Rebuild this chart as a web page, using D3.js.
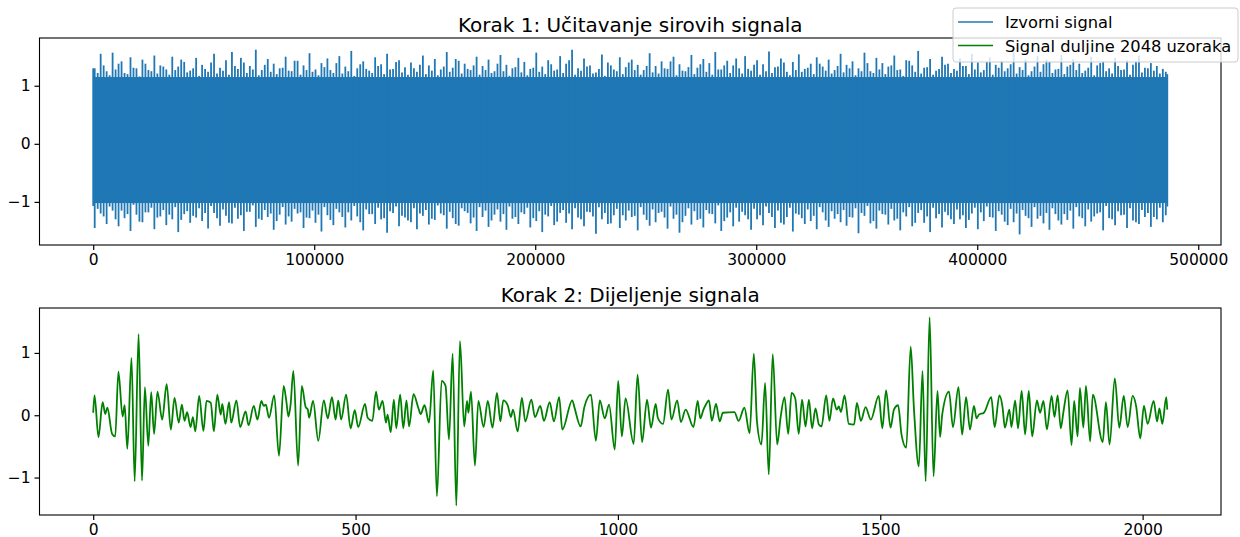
<!DOCTYPE html>
<html>
<head>
<meta charset="utf-8">
<script src="https://cdn.jsdelivr.net/npm/d3@7"></script>
<style>
  body { margin: 0; background: #fff; }
  svg { display: block; font-family: "DejaVu Sans", sans-serif; }
</style>
</head>
<body>
<svg id="chart" width="1240" height="537"></svg>
<script>
// raw signal: 486000 samples, drawn as its envelope (max / min per bin of 1350 samples)
// A arrays hold the even bins, B arrays the odd bins
const rawLength = 486000;
const rawBin = 1350;
const rawCore = [-1.02, 1.15];
const rawUpperA = [
  1.30,1.55,1.25,1.57,1.38,1.22,1.49,1.30,1.45,1.27,1.52,1.35,1.28,1.50,1.33,1.41,1.26,1.48,
  1.36,1.24,1.55,1.31,1.44,1.58,1.29,1.40,1.34,1.62,1.27,1.46,1.38,1.30,1.50,1.25,1.43,1.35,
  1.56,1.28,1.39,1.47,1.22,1.51,1.33,1.60,1.30,1.42,1.26,1.49,1.37,1.55,1.29,1.44,1.32,1.40,
  1.24,1.52,1.35,1.46,1.28,1.58,1.31,1.43,1.38,1.27,1.50,1.34,1.45,1.25,1.53,1.36,1.30,1.48,
  1.41,1.29,1.57,1.33,1.44,1.26,1.51,1.38,1.62,1.30,1.47,1.35,1.23,1.54,1.40,1.28,1.49,1.32,
  1.45,1.36,1.27,1.56,1.34,1.42,1.29,1.50,1.37,1.25,1.53,1.31,1.46,1.39,1.58,1.28,1.43,1.35,
  1.30,1.51,1.26,1.44,1.37,1.59,1.32,1.47,1.24,1.41,1.54,1.29,1.38,1.49,1.33,1.45,1.27,1.55,
  1.36,1.42,1.30,1.57,1.25,1.48,1.39,1.33,1.52,1.28,1.44,1.35,1.60,1.31,1.46,1.26,1.50,1.38,
  1.29,1.47,1.34,1.55,1.40,1.27,1.49,1.36,1.43,1.30,1.58,1.32,1.45,1.25,1.51,1.37,1.41,1.28,
  1.53,1.33,1.46,1.38,1.26,1.50,1.35,1.42,1.30,1.48,1.27,1.44,1.36,1.52,1.31,1.39,1.34,1.29
];
const rawUpperB = [
  1.22,1.35,1.18,1.28,1.42,1.20,1.31,1.16,1.38,1.25,1.21,1.33,1.19,1.27,1.45,1.23,1.30,1.17,
  1.29,1.40,1.21,1.26,1.19,1.34,1.48,1.22,1.28,1.18,1.36,1.24,1.20,1.31,1.26,1.43,1.19,1.27,
  1.24,1.18,1.32,1.27,1.39,1.21,1.25,1.17,1.37,1.29,1.22,1.34,1.20,1.28,1.41,1.23,1.19,1.30,
  1.36,1.20,1.26,1.18,1.33,1.24,1.46,1.21,1.29,1.35,1.19,1.27,1.22,1.38,1.25,1.17,1.32,1.23,
  1.18,1.31,1.24,1.20,1.37,1.28,1.22,1.44,1.19,1.26,1.33,1.21,1.29,1.17,1.35,1.25,1.20,1.40,
  1.27,1.19,1.34,1.23,1.21,1.30,1.42,1.18,1.26,1.32,1.20,1.37,1.24,1.19,1.28,1.35,1.22,1.47,
  1.21,1.29,1.36,1.19,1.25,1.22,1.33,1.40,1.18,1.27,1.24,1.31,1.20,1.38,1.26,1.21,1.34,1.23,
  1.30,1.18,1.25,1.39,1.22,1.28,1.20,1.35,1.27,1.17,1.43,1.24,1.21,1.32,1.19,1.29,1.36,1.22,
  1.26,1.34,1.20,1.28,1.23,1.41,1.19,1.31,1.25,1.37,1.21,1.27,1.18,1.33,1.24,1.45,1.22,1.29,
  1.20,1.36,1.27,1.22,1.31,1.18,1.39,1.25,1.21,1.34,1.28,1.19,1.42,1.23,1.30,1.26,1.21,1.24
];
const rawLowerA = [
  -1.45,-1.20,-1.38,-1.15,-1.42,-1.28,-1.50,-1.22,-1.35,-1.18,-1.47,-1.25,-1.40,-1.30,-1.52,-1.21,-1.36,-1.27,
  -1.33,-1.46,-1.19,-1.41,-1.24,-1.37,-1.29,-1.50,-1.17,-1.43,-1.31,-1.26,-1.48,-1.22,-1.39,-1.34,-1.20,-1.45,
  -1.28,-1.36,-1.51,-1.23,-1.40,-1.18,-1.44,-1.32,-1.25,-1.49,-1.21,-1.38,-1.30,-1.53,-1.19,-1.42,-1.27,-1.35,
  -1.47,-1.24,-1.39,-1.31,-1.20,-1.46,-1.28,-1.41,-1.16,-1.37,-1.50,-1.26,-1.43,-1.22,-1.34,-1.48,-1.29,-1.38,
  -1.21,-1.44,-1.33,-1.52,-1.25,-1.40,-1.19,-1.36,-1.47,-1.27,-1.42,-1.18,-1.55,-1.30,-1.38,-1.23,-1.45,-1.32,
  -1.26,-1.49,-1.22,-1.41,-1.35,-1.17,-1.46,-1.29,-1.53,-1.24,-1.39,-1.31,-1.44,-1.20,-1.37,-1.50,-1.27,-1.42,
  -1.34,-1.23,-1.48,-1.30,-1.40,-1.19,-1.45,-1.36,-1.26,-1.51,-1.22,-1.38,-1.33,-1.47,-1.18,-1.43,-1.29,-1.35,
  -1.41,-1.27,-1.54,-1.24,-1.37,-1.46,-1.21,-1.39,-1.32,-1.49,-1.25,-1.42,-1.19,-1.36,-1.52,-1.28,-1.44,-1.23,
  -1.38,-1.30,-1.45,-1.20,-1.47,-1.33,-1.26,-1.50,-1.22,-1.40,-1.35,-1.56,-1.24,-1.43,-1.29,-1.37,-1.48,-1.21,
  -1.39,-1.31,-1.46,-1.25,-1.42,-1.34,-1.20,-1.49,-1.28,-1.40,-1.23,-1.45,-1.32,-1.38,-1.26,-1.43,-1.30,-1.35
];
const rawLowerB = [
  -1.12,-1.25,-1.08,-1.30,-1.15,-1.21,-1.05,-1.34,-1.18,-1.10,-1.27,-1.14,-1.22,-1.09,-1.31,-1.16,-1.24,-1.11,
  -1.19,-1.07,-1.28,-1.13,-1.36,-1.10,-1.23,-1.17,-1.06,-1.29,-1.14,-1.20,-1.33,-1.09,-1.25,-1.12,-1.18,-1.27,
  -1.15,-1.22,-1.09,-1.31,-1.12,-1.26,-1.18,-1.07,-1.35,-1.13,-1.21,-1.10,-1.28,-1.16,-1.08,-1.24,-1.32,-1.11,
  -1.20,-1.14,-1.29,-1.06,-1.23,-1.17,-1.38,-1.11,-1.19,-1.27,-1.09,-1.15,-1.32,-1.13,-1.21,-1.08,-1.26,-1.18,
  -1.10,-1.28,-1.16,-1.22,-1.07,-1.34,-1.14,-1.20,-1.11,-1.30,-1.17,-1.25,-1.09,-1.19,-1.37,-1.12,-1.23,-1.15,
  -1.24,-1.09,-1.31,-1.13,-1.19,-1.27,-1.08,-1.22,-1.35,-1.11,-1.16,-1.29,-1.14,-1.21,-1.06,-1.33,-1.18,-1.10,
  -1.17,-1.30,-1.12,-1.23,-1.08,-1.26,-1.15,-1.39,-1.10,-1.20,-1.28,-1.13,-1.24,-1.09,-1.32,-1.16,-1.21,-1.14,
  -1.26,-1.11,-1.19,-1.07,-1.33,-1.15,-1.22,-1.12,-1.29,-1.18,-1.09,-1.36,-1.14,-1.25,-1.10,-1.21,-1.17,-1.30,
  -1.13,-1.23,-1.31,-1.10,-1.18,-1.08,-1.27,-1.16,-1.34,-1.12,-1.20,-1.14,-1.28,-1.09,-1.24,-1.19,-1.11,-1.32,
  -1.21,-1.15,-1.09,-1.28,-1.13,-1.25,-1.18,-1.07,-1.30,-1.16,-1.22,-1.11,-1.35,-1.14,-1.19,-1.26,-1.10,-1.23
];

// 2048-sample segment: turning points (sample index, value)
const segIdx = [
  0,2.5,10,18,23,27,36,42,48,56,60,65,73,79,86.5,93,98.5,105,110.5,116,122.5,131.5,140,148,155,163,169,174,179,185.5,
  190,194.5,202,210,216,224,230,236.5,243,246,252,259,263,273,280,290.5,296,306,313,320.5,325,329,335,345,354,363,368,372,376,381.5,
  390.5,397.5,405,409,411.5,419,429,439.5,447,455,462,467,472.5,482,490.5,498.5,505,518,523,532,539,544.5,551.5,558,561,567,573,577.5,585,591,
  597,602,610.5,619.5,624,631.5,640,648,655,664,671.5,678,685,692,699,707,712.5,715,720,727.5,734,744,752,761,769.5,776,781.5,790,796,800,
  809,817,823.5,835,842,852,859,870,878,888,894,913,917,929,936,948.5,958,965.5,975,983,994,1000.5,1007.5,1014.5,1030,1037.5,1046,1055.5,1063,1072,
  1076,1086,1095.5,1102,1113,1120,1129,1144,1152,1157,1163,1167,1173.5,1179,1187,1194,1200,1222,1230,1241,1251,1259,1265,1273.5,1280.5,1287.5,1295,1303.5,1310,1317.5,
  1324.5,1331,1338,1344.5,1351,1357.5,1364,1370,1376.5,1383,1388,1397,1403,1410,1417,1421,1425,1432,1440,1450,1455.5,1463,1472,1482,1497,1504,1511,1519.5,1526,1534,1540.5,1549.5,1558,
  1564,1573.5,1580.5,1586.5,1594,1601.5,1609,1614,1618,1631,1638.5,1649,1656,1663.5,1671,1678.5,1683.5,1688,1697.5,1711.5,1718,1727,1733,1737.5,1746,1750,1757,1762.5,1769.5,1776,
  1783,1789.5,1798.5,1804.5,1811,1817.5,1826.5,1832,1838,1844,1849,1857,1864.5,1869.5,1876,1880.5,1887,1892,1900,1905,1924,1930,1937,1947,1955.5,1964,1971.5,1981,1987.5,1995.5,
  2002.5,2009.5,2021,2027.5,2032,2037.5,2045,2047
];
const segVal = [
  0.04,0.32,-0.35,0.21,0.02,0.12,-0.30,-0.34,0.70,-0.02,0.16,-0.54,0.92,-1.06,1.30,-1.05,0.45,-0.49,0.37,-0.30,0.38,-0.07,0.50,-0.23,0.28,-0.12,0.17,-0.09,0.05,-0.19,
  -0.03,-0.26,0.31,-0.25,0.23,0.20,-0.26,0.33,0.01,0.18,-0.14,0.21,-0.12,0.24,-0.19,0.06,-0.16,0.15,-0.07,0.23,0.15,0.17,-0.04,0.32,-0.65,0.47,0.23,-0.02,0.16,0.71,
  -0.81,0.47,0.13,0.09,-0.04,0.23,-0.41,0.24,-0.05,0.29,-0.07,0.24,-0.07,0.33,-0.21,0.08,-0.19,0.18,-0.04,-0.09,0.38,0.09,0.23,-0.12,0.01,-0.27,0.25,-0.21,0.33,-0.21,
  0.24,-0.18,0.34,0.12,0.02,0.16,-0.12,0.72,-1.30,0.55,0.47,-0.39,0.99,-1.45,1.19,-0.18,0.23,0.04,0.38,-0.81,0.23,-0.19,0.23,-0.20,0.36,-0.10,0.24,0.16,-0.03,0.09,
  -0.26,0.28,-0.10,0.25,-0.03,0.15,-0.09,0.21,-0.10,0.29,-0.23,0.24,0.13,-0.18,0.13,0.33,-0.41,0.24,-0.05,0.17,-0.55,0.55,-0.34,0.27,-0.46,0.65,-0.43,0.25,-0.20,0.18,
  -0.04,-0.14,0.41,-0.07,0.24,-0.11,0.09,-0.19,0.23,-0.05,0.09,0.16,0.24,-0.09,0.18,-0.10,0.04,0.05,-0.09,0.12,-0.29,0.99,-0.10,-0.47,0.52,-0.95,0.98,-0.47,-0.04,0.29,
  -0.30,0.36,0.27,-0.30,0.25,-0.18,0.25,-0.21,0.11,-0.15,-0.18,0.32,-0.09,0.27,0.09,0.14,0.05,0.32,-0.14,-0.15,0.20,-0.09,0.13,-0.07,0.31,-0.21,0.40,-0.20,0.09,0.16,-0.31,-0.52,1.10,
  0.13,-0.82,0.71,-1.06,1.57,-0.98,0.39,-0.35,0.01,0.38,-0.19,0.45,-0.31,0.29,-0.23,0.15,-0.05,0.01,0.04,0.29,-0.19,0.32,0.13,-0.20,0.09,-0.19,0.24,-0.21,0.39,-0.31,
  0.39,-0.34,0.24,0.04,0.23,-0.23,0.31,-0.03,0.32,-0.21,0.05,0.40,-0.48,0.23,-0.34,0.44,-0.20,0.47,-0.42,0.33,-0.43,0.21,-0.47,0.59,-0.20,0.31,-0.19,0.31,0.15,-0.37,
  0.15,-0.14,0.23,-0.10,0.11,-0.14,0.29,0.09
];

const rawTicksX = [0, 100000, 200000, 300000, 400000, 500000];
const segTicksX = [0, 500, 1000, 1500, 2000];
const ticksY = [-1, 0, 1];
const legendLabels = ["Izvorni signal", "Signal duljine 2048 uzoraka"];

const blue = "#1f77b4";
const green = "#008000";

const svg = d3.select("#chart");
const left = 39.5, right = 1221;

function pad(lo, hi) {
  const m = (hi - lo) * 0.05;
  return [lo - m, hi + m];
}

function fmt(d) {
  return d < 0 ? "\u2212" + Math.abs(d) : String(d);
}

function styleAxis(a) {
  a.attr("font-size", 15.5).attr("font-family", "DejaVu Sans, sans-serif");
  a.select(".domain").remove();
  a.selectAll("line").attr("stroke", "#000").attr("stroke-width", 1.2);
  a.selectAll("text").attr("fill", "#000");
}

function axes(g, x, y, top, bottom, xt, title, titleY) {
  g.append("g")
    .attr("transform", `translate(0,${bottom})`)
    .call(d3.axisBottom(x).tickValues(xt).tickFormat(d => String(d)).tickSize(5).tickPadding(4))
    .call(styleAxis);
  g.append("g")
    .attr("transform", `translate(${left},0)`)
    .call(d3.axisLeft(y).tickValues(ticksY).tickFormat(fmt).tickSize(5).tickPadding(4))
    .call(styleAxis);
  g.append("rect")
    .attr("x", left).attr("y", top)
    .attr("width", right - left).attr("height", bottom - top)
    .attr("fill", "none").attr("stroke", "#000").attr("stroke-width", 1.1);
  g.append("text")
    .attr("x", (left + right) / 2).attr("y", titleY)
    .attr("text-anchor", "middle").attr("font-size", 20).attr("fill", "#000")
    .text(title);
}

// top panel
{
  const top = 38, bottom = 245;
  const x = d3.scaleLinear().domain(pad(0, rawLength)).range([left, right]);
  const y = d3.scaleLinear().domain(pad(-1.58, 1.66)).range([bottom, top]);
  const g = svg.append("g");

  g.append("rect")
    .attr("x", x(0)).attr("width", x(rawLength) - x(0))
    .attr("y", y(rawCore[1])).attr("height", y(rawCore[0]) - y(rawCore[1]))
    .attr("fill", blue);

  const bins = [];
  rawUpperA.forEach((u, i) => {
    bins.push({ x: (2 * i + 0.5) * rawBin, hi: u, lo: rawLowerA[i] });
    bins.push({ x: (2 * i + 1.5) * rawBin, hi: rawUpperB[i], lo: rawLowerB[i] });
  });
  bins.unshift({ x: 0, hi: 1.30, lo: -1.07 });
  bins.push({ x: rawLength, hi: 1.20, lo: -1.08 });

  g.selectAll("line.spike").data(bins.filter(d => d.x <= rawLength)).join("line")
    .attr("class", "spike")
    .attr("x1", d => x(d.x)).attr("x2", d => x(d.x))
    .attr("y1", d => y(d.hi)).attr("y2", d => y(d.lo))
    .attr("stroke", blue).attr("stroke-width", 1.8);

  axes(g, x, y, top, bottom, rawTicksX, "Korak 1: U\u010ditavanje sirovih signala", 32);
}

// bottom panel
{
  const top = 308, bottom = 515;
  const x = d3.scaleLinear().domain(pad(0, 2047)).range([left, right]);
  const y = d3.scaleLinear().domain(pad(-1.45, 1.57)).range([bottom, top]);
  const g = svg.append("g");

  const line = d3.line()
    .x((d, i) => x(segIdx[i]))
    .y(d => y(d))
    .curve(d3.curveMonotoneX);

  g.append("path")
    .datum(segVal)
    .attr("d", line)
    .attr("fill", "none").attr("stroke", green).attr("stroke-width", 1.8)
    .attr("stroke-linejoin", "round");

  axes(g, x, y, top, bottom, segTicksX, "Korak 2: Dijeljenje signala", 302);
}

// legend (figure level, top right)
{
  const lg = svg.append("g").attr("transform", "translate(953,8)");
  lg.append("rect")
    .attr("width", 285).attr("height", 54).attr("rx", 3)
    .attr("fill", "#fff").attr("fill-opacity", 0.8)
    .attr("stroke", "#ccc").attr("stroke-width", 1);
  const colors = [blue, green];
  legendLabels.forEach((t, i) => {
    const cy = 14 + i * 23.5;
    lg.append("line")
      .attr("x1", 5).attr("x2", 40).attr("y1", cy).attr("y2", cy)
      .attr("stroke", colors[i]).attr("stroke-width", 1.5);
    lg.append("text")
      .attr("x", 52).attr("y", cy + 6)
      .attr("font-size", 16.3).attr("fill", "#000")
      .text(t);
  });
}
</script>
</body>
</html>
